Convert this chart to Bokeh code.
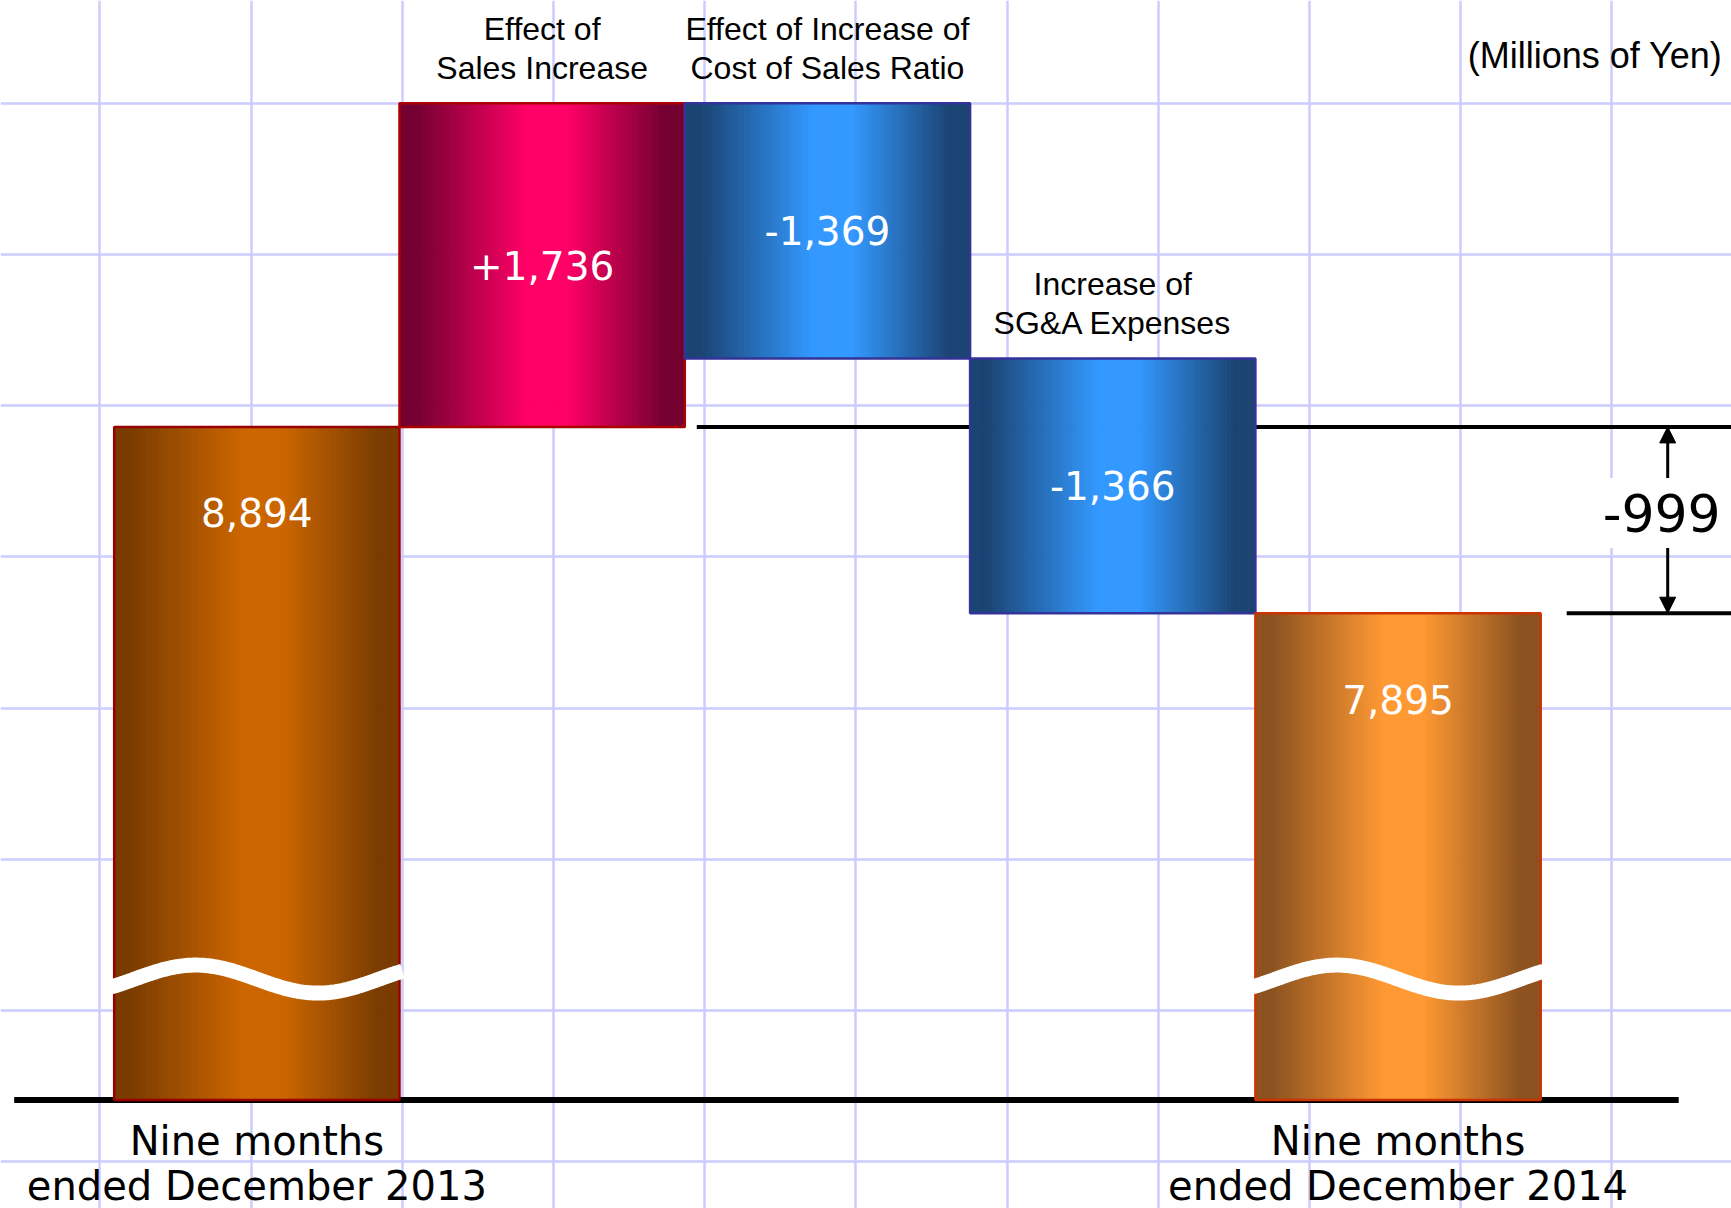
import numpy as np
from bokeh.plotting import figure
from bokeh.models import Range1d, FixedTicker, Arrow, NormalHead
from bokeh.core.properties import value
from bokeh.embed import file_html
from bokeh.resources import INLINE

# Operating income bridge (millions of yen)
period_labels = [["Nine months", "ended December 2013"],
                 ["Nine months", "ended December 2014"]]
period_totals = [8894, 7895]
factor_labels = [["Effect of", "Sales Increase"],
                 ["Effect of Increase of", "Cost of Sales Ratio"],
                 ["Increase of", "SG&A Expenses"]]
factor_changes = [1736, -1369, -1366]
unit_label = "(Millions of Yen)"
axis_cut = 5284  # value at which the (cut) period bars start

W, H = 1731, 1208
x_range = Range1d(-0.8985, 5.1688)
y_range = Range1d(4702.5, 11180.8)
PX_X = W / (x_range.end - x_range.start)
PX_Y = H / (y_range.end - y_range.start)


def sx(px):
    """screen pixels -> data units along x"""
    return px / PX_X


def sy(px):
    """screen pixels -> data units along y"""
    return px / PX_Y


STYLES = {
    "start": ("#7a3c00", "#cc6600", "#990000"),
    "up": ("#730030", "#ff0066", "#aa0000"),
    "down": ("#1b4473", "#3399ff", "#333399"),
    "end": ("#8c5220", "#ff9933", "#cc3300"),
}


def mix(c1, c2, w):
    a = np.array([int(c1[i:i + 2], 16) for i in (1, 3, 5)], float)
    b = np.array([int(c2[i:i + 2], 16) for i in (1, 3, 5)], float)
    c = np.round(a + (b - a) * w).astype(int)
    return "#%02x%02x%02x" % tuple(c)


# waterfall geometry
bars = [dict(x=0, bottom=axis_cut, top=period_totals[0], style="start",
             val=f"{period_totals[0]:,}")]
level = period_totals[0]
for i, d in enumerate(factor_changes):
    new = level + d
    bars.append(dict(x=i + 1, bottom=min(level, new), top=max(level, new),
                     style="up" if d > 0 else "down", val=f"{d:+,}"))
    level = new
bars.append(dict(x=4, bottom=axis_cut, top=period_totals[1], style="end",
                 val=f"{period_totals[1]:,}"))
difference = period_totals[1] - period_totals[0]

p = figure(width=W, height=H, x_range=x_range, y_range=y_range,
           x_axis_location=None, y_axis_location=None,
           toolbar_location=None, output_backend="svg", min_border=0)
p.background_fill_color = "white"
p.border_fill_color = "white"
p.outline_line_color = None

# background grid
grid_step = 151.2
xticks = [x_range.start + sx(99.4 + n * grid_step) for n in range(12)]
yticks = [y_range.end - sy(102.7 + n * grid_step) for n in range(8)]
p.xgrid.ticker = FixedTicker(ticks=xticks)
p.ygrid.ticker = FixedTicker(ticks=yticks)
for g in (p.xgrid, p.ygrid):
    g.grid_line_color = "#ccccff"
    g.grid_line_width = 2.5
    g.grid_line_alpha = 1.0

arrow_x = 4.5 + sx(127)

# reference levels
p.segment(x0=[1.5 + sx(12)], x1=[x_range.end], y0=[period_totals[0]], y1=[period_totals[0]],
          line_color="black", line_width=4)
p.segment(x0=[arrow_x - sx(101)], x1=[x_range.end], y0=[period_totals[1]], y1=[period_totals[1]],
          line_color="black", line_width=4)
# baseline
p.segment(x0=[-0.5 - sx(100)], x1=[4.5 + sx(138)], y0=[axis_cut], y1=[axis_cut],
          line_color="black", line_width=6)

# bars with horizontal shading (dark edges, bright centre)
N = 120
t = (np.arange(N) + 0.5) / N
w = np.interp(t, [0, 0.06, 0.45, 0.59, 0.93, 1], [0, 0, 1, 1, 0, 0])
for b in bars:
    dark, bright, edge = STYLES[b["style"]]
    e = np.linspace(b["x"] - 0.5, b["x"] + 0.5, N + 1)
    cols = [mix(dark, bright, wi) for wi in w]
    p.quad(left=e[:-1], right=e[1:], bottom=b["bottom"], top=b["top"],
           fill_color=cols, line_color=cols, line_width=1)
    p.quad(left=[b["x"] - 0.5], right=[b["x"] + 0.5], bottom=[b["bottom"]], top=[b["top"]],
           fill_color=None, line_color=edge, line_width=2.5)

# axis-break waves on the period bars
tt = np.linspace(0, 1, 160)
wave_mid = axis_cut + sy(121)
for b in (bars[0], bars[-1]):
    xs = b["x"] - 0.5 - sx(3) + tt * (1 + 2 * sx(3))
    ys = wave_mid + sy(14) * np.cos(2 * np.pi * (tt - 0.29) / 0.84)
    p.line(xs, ys, line_color="white", line_width=15)

# value labels
vx, vy, vt = [], [], []
for b in bars:
    vx.append(b["x"])
    if b["style"] in ("start", "end"):
        vy.append(b["top"] - sy(86))
    else:
        vy.append((b["top"] + b["bottom"]) / 2)
    vt.append(b["val"])
p.text(x=vx, y=vy, text=vt, text_color="white", text_align="center",
       text_baseline="middle", text_font=value("DejaVu Sans"),
       text_font_size=value("39px"))

# factor captions above the change bars
cx, cy, ct = [], [], []
for b, lines in zip(bars[1:4], factor_labels):
    cx += [b["x"], b["x"]]
    cy += [b["top"] + sy(74), b["top"] + sy(35)]
    ct += lines
p.text(x=cx, y=cy, text=ct, text_color="black", text_align="center",
       text_baseline="middle", text_font=value("Liberation Sans"),
       text_font_size=value("32px"))

# period captions below the baseline
px_, py_, pt_ = [], [], []
for b, lines in zip((bars[0], bars[-1]), period_labels):
    px_ += [b["x"], b["x"]]
    py_ += [axis_cut - sy(41), axis_cut - sy(86)]
    pt_ += lines
p.text(x=px_, y=py_, text=pt_, text_color="black", text_align="center",
       text_baseline="middle", text_font=value("DejaVu Sans"),
       text_font_size=value("40px"))

# unit
p.text(x=[x_range.end - sx(9)], y=[y_range.end - sy(55)], text=[unit_label],
       text_color="black", text_align="right", text_baseline="middle",
       text_font=value("Liberation Sans"), text_font_size=value("36px"))

# difference marker
mid = (period_totals[0] + period_totals[1]) / 2
label_y = mid + sy(7)
p.rect(x=[arrow_x], y=[label_y], width=150, height=70, width_units="screen",
       height_units="screen", fill_color="white", line_color=None)
for y_from, y_to in ((label_y + sy(35), period_totals[0]), (label_y - sy(35), period_totals[1])):
    p.add_layout(Arrow(end=NormalHead(size=16, fill_color="black", line_color="black", line_width=1),
                       x_start=arrow_x, y_start=y_from, x_end=arrow_x, y_end=y_to,
                       line_color="black", line_width=3))
p.text(x=[arrow_x - sx(6)], y=[label_y], text=[f"{difference:,}"], text_color="black",
       text_align="center", text_baseline="middle", text_font=value("DejaVu Sans"),
       text_font_size=value("52px"))

open("out.html", "w").write(file_html(p, INLINE))
